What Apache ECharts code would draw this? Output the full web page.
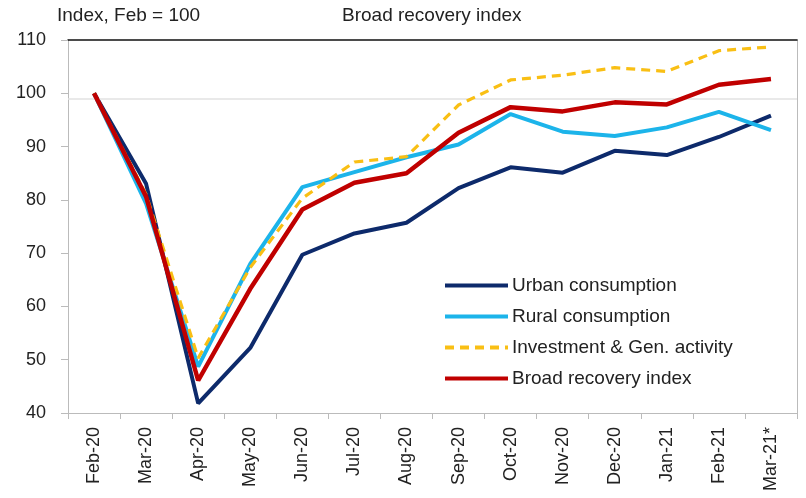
<!DOCTYPE html>
<html><head><meta charset="utf-8">
<script src="https://cdn.jsdelivr.net/npm/echarts@6/dist/echarts.min.js"></script>
<style>html,body{margin:0;padding:0;background:#fff}#c{width:806px;height:498px}</style>
</head><body><div id="c"></div>
<script>
var categories = ['Feb-20','Mar-20','Apr-20','May-20','Jun-20','Jul-20','Aug-20','Sep-20','Oct-20','Nov-20','Dec-20','Jan-21','Feb-21','Mar-21*'];
var urban  = [100, 83.0, 41.8, 52.2, 69.7, 73.7, 75.7, 82.2, 86.1, 85.1, 89.2, 88.4, 91.8, 95.8];
var rural  = [100, 79.3, 48.7, 68.0, 82.4, 85.2, 88.0, 90.4, 96.1, 92.8, 92.0, 93.6, 96.5, 93.1];
var invest = [100, 81.0, 50.3, 67.3, 80.3, 87.1, 88.1, 97.8, 102.5, 103.4, 104.8, 104.1, 108.0, 108.7];
var broad  = [100, 80.6, 46.1, 63.3, 78.2, 83.2, 85.0, 92.6, 97.4, 96.6, 98.3, 97.9, 101.6, 102.7];
var yTicks = {min: 40, max: 110, interval: 10};
var refLine = 99;

var font = '"Liberation Sans", Arial, sans-serif';
var chart = echarts.init(document.getElementById('c'));
chart.setOption({
  animation: false,
  backgroundColor: '#fff',
  title: [
    {text: 'Index, Feb = 100', left: 52, top: 1, textStyle: {fontFamily: font, fontSize: 19, fontWeight: 'normal', color: '#222'}},
    {text: 'Broad recovery index', left: 337, top: 1, textStyle: {fontFamily: font, fontSize: 19, fontWeight: 'normal', color: '#222'}}
  ],
  grid: {left: 68, right: 9, top: 40, bottom: 85},
  legend: {
    orient: 'vertical', left: 438, top: 271, itemWidth: 63, itemHeight: 20, itemGap: 12,
    itemStyle: {opacity: 0},
    lineStyle: {width: 4},
    textStyle: {fontFamily: font, fontSize: 19, color: '#222', padding: [0,0,0,-1]},
    data: ['Urban consumption','Rural consumption','Investment & Gen. activity','Broad recovery index']
  },
  xAxis: [{
    type: 'category', data: categories, boundaryGap: true,
    axisLine: {lineStyle: {color: '#bbb', width: 1}},
    axisTick: {show: true, length: 6, lineStyle: {color: '#bbb'}},
    axisLabel: {rotate: 90, margin: 14, fontFamily: font, fontSize: 18, color: '#222'}
  }, {
    type: 'category', data: categories, position: 'top',
    axisLine: {lineStyle: {color: '#111', width: 1.5}},
    axisTick: {show: false}, axisLabel: {show: false}
  }],
  yAxis: [{
    type: 'value', min: yTicks.min, max: yTicks.max, interval: yTicks.interval,
    axisLine: {show: true, lineStyle: {color: '#bbb'}},
    axisTick: {show: true, length: 7, lineStyle: {color: '#bbb'}},
    splitLine: {show: false},
    axisLabel: {margin: 22, fontFamily: font, fontSize: 18, color: '#222'}
  }, {
    type: 'value', min: yTicks.min, max: yTicks.max, interval: yTicks.interval, position: 'right',
    axisLine: {show: true, lineStyle: {color: '#bbb'}},
    axisTick: {show: false}, axisLabel: {show: false}, splitLine: {show: false}
  }],
  series: [
    {name: 'Urban consumption', type: 'line', data: urban, symbol: 'none', z: 3,
     lineStyle: {color: '#0d2a6b', width: 4}, itemStyle: {color: '#0d2a6b'},
     markLine: {silent: true, symbol: 'none', label: {show: false}, lineStyle: {color: '#e2e2e2', type: 'solid', width: 1.5}, data: [{yAxis: refLine}]}},
    {name: 'Rural consumption', type: 'line', data: rural, symbol: 'none', z: 4,
     lineStyle: {color: '#1cb4ea', width: 4}, itemStyle: {color: '#1cb4ea'}},
    {name: 'Investment & Gen. activity', type: 'line', data: invest, symbol: 'none', z: 5,
     lineStyle: {color: '#f9bf14', width: 3.2, type: [9, 6]}, itemStyle: {color: '#f9bf14'}},
    {name: 'Broad recovery index', type: 'line', data: broad, symbol: 'none', z: 6,
     lineStyle: {color: '#c00000', width: 4.5}, itemStyle: {color: '#c00000'}}
  ]
});
</script></body></html>
